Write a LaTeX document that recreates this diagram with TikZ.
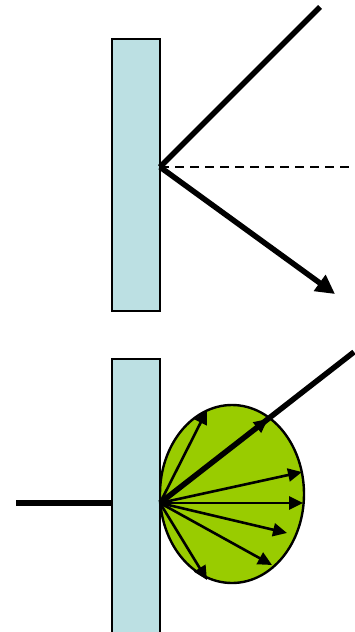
\documentclass[tikz,border=0pt]{standalone}
\usetikzlibrary{arrows.meta}

\definecolor{platecol}{RGB}{188,224,227}
\definecolor{lobecol}{RGB}{153,204,0}

\tikzset{
  plate/.style={draw=black, line width=2.4pt, fill=platecol},
  ray/.style={line width=5.5pt},
  fanray/.style={line width=2.6pt, -{Triangle[length=14pt,width=13pt]}},
}

\begin{document}
\begin{tikzpicture}[x=1pt, y=-1pt]
	\useasboundingbox (0,0) rectangle (354,632);

	% mirror-like reflection
	\draw[plate] (112,39) rectangle (160,311);
	\coordinate (hit) at (160,167);
	\coordinate (src) at (320,7);
	\coordinate (normal) at (354,167);
	\coordinate (out) at (335,294);

	\draw[ray] (src) -- (hit);
	\draw[line width=2.4pt, dash pattern=on 9pt off 6pt] (hit) -- (normal);
	\draw[ray, -{Triangle[length=19pt,width=19pt]}] (hit) -- (out);

	% diffuse reflection
	\draw[fill=lobecol, line width=2.4pt] (232,494) ellipse [x radius=72, y radius=89];
	\draw[plate] (112,359) rectangle (160,640);
	\coordinate (spot) at (160,503);
	\coordinate (in) at (16,503);
	\coordinate (far) at (354,352);

	\draw[ray] (in) -- (112,503);
	\draw[ray] (spot) -- (far);
	\foreach \tx/\ty in {207/410, 268/419, 302/472, 303/503, 287/533, 272/565, 207/580}
		\draw[fanray] (spot) -- (\tx,\ty);

\end{tikzpicture}
\end{document}
